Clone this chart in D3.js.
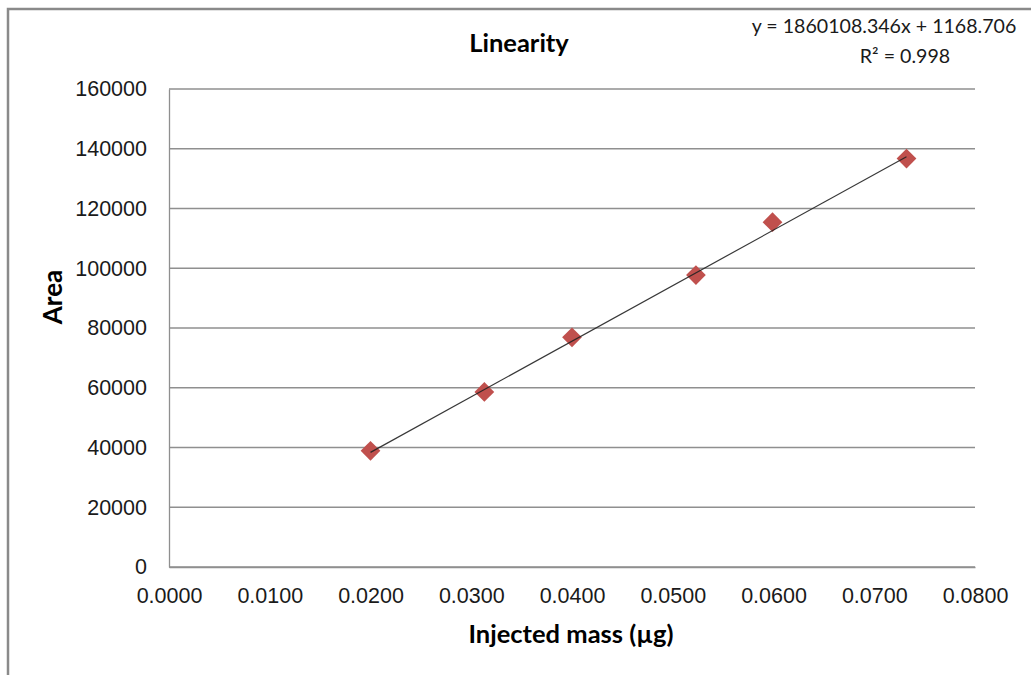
<!DOCTYPE html>
<html>
<head>
<meta charset="utf-8">
<script src="https://cdn.jsdelivr.net/npm/d3@7"></script>
<style>
    body { margin: 0; background: #fff; }
    svg { display: block; font-family: Lato, "Open Sans", sans-serif; }
</style>
</head>
<body>
<svg id="chart" width="1031" height="675"></svg>
<script>
// Values
let massValues = [0.0200, 0.0313, 0.0400, 0.0523, 0.0599, 0.0732];
let areaValues = [38900, 58600, 76900, 97700, 115400, 136700];
let xTicks = [0, 0.01, 0.02, 0.03, 0.04, 0.05, 0.06, 0.07, 0.08];
let yTicks = [0, 20000, 40000, 60000, 80000, 100000, 120000, 140000, 160000];
// trendline shown by the label
let slope = 1860108.346;
let intercept = 1168.706;

let svg = d3.select("#chart");
let svgWidth = 1031, svgHeight = 675;
let margin = { top: 89, right: 56, bottom: 108, left: 169 };
let width = svgWidth - margin.left - margin.right;
let height = svgHeight - margin.top - margin.bottom;

// outer chart frame (only left and top visible)
svg.append("path")
    .attr("d", "M8," + svgHeight + "V9H" + svgWidth)
    .attr("fill", "none")
    .attr("stroke", "#8a8a8a")
    .attr("stroke-width", 2.5);

let x = d3.scaleLinear().domain([0, 0.08]).range([0, width]);
let y = d3.scaleLinear().domain([0, 160000]).range([height, 0]);

let g = svg.append("g")
    .attr("transform", "translate(" + margin.left + "," + margin.top + ")");

// horizontal gridlines
g.append("g")
    .selectAll("line")
    .data(yTicks)
    .join("line")
    .attr("x1", 0)
    .attr("x2", width)
    .attr("y1", d => y(d))
    .attr("y2", d => y(d))
    .attr("stroke", "#8f8f8f")
    .attr("stroke-width", 1.3);

// y axis
let yAxis = g.append("g")
    .call(d3.axisLeft(y).tickValues(yTicks).tickSize(0).tickPadding(22).tickFormat(d3.format("d")));
yAxis.select(".domain").attr("stroke", "#8f8f8f").attr("stroke-width", 1.3);
yAxis.selectAll("text")
    .attr("fill", "#1a1a1a")
    .style("font-size", "21.5px");

// x axis
let xAxis = g.append("g")
    .attr("transform", "translate(0," + height + ")")
    .call(d3.axisBottom(x).tickValues(xTicks).tickSize(0).tickPadding(21).tickFormat(d3.format(".4f")));
xAxis.select(".domain").attr("stroke", "#8f8f8f").attr("stroke-width", 1.3);
xAxis.selectAll("text")
    .attr("fill", "#1a1a1a")
    .style("font-size", "21.5px");

// trendline
let xMin = d3.min(massValues), xMax = d3.max(massValues);

// diamond markers
let diamond = d3.symbol().type(d3.symbolSquare).size(195);
g.append("g")
    .selectAll("path")
    .data(massValues)
    .join("path")
    .attr("d", diamond)
    .attr("transform", (d, i) => "translate(" + x(d) + "," + y(areaValues[i]) + ") rotate(45)")
    .attr("fill", "#c0504d");

// trendline drawn over markers like Excel
g.append("line")
    .attr("x1", x(xMin))
    .attr("y1", y(slope * xMin + intercept))
    .attr("x2", x(xMax))
    .attr("y2", y(slope * xMax + intercept))
    .attr("stroke", "#222")
    .attr("stroke-width", 1.2)
    .attr("stroke-opacity", 0.9);

// titles
svg.append("text")
    .attr("x", 519)
    .attr("y", 52)
    .attr("text-anchor", "middle")
    .attr("fill", "#000")
    .style("font-size", "25.5px")
    .style("font-weight", "bold")
    .text("Linearity");

svg.append("text")
    .attr("x", 571)
    .attr("y", 643)
    .attr("text-anchor", "middle")
    .attr("fill", "#000")
    .style("font-size", "25.5px")
    .style("font-weight", "bold")
    .text("Injected mass (µg)");

svg.append("text")
    .attr("transform", "translate(62,297) rotate(-90)")
    .attr("text-anchor", "middle")
    .attr("fill", "#000")
    .style("font-size", "26px")
    .style("font-weight", "bold")
    .text("Area");

// trendline label
svg.append("text")
    .attr("x", 884)
    .attr("y", 33)
    .attr("text-anchor", "middle")
    .attr("fill", "#1a1a1a")
    .style("font-size", "19.6px")
    .text("y = 1860108.346x + 1168.706");

svg.append("text")
    .attr("x", 905)
    .attr("y", 63)
    .attr("text-anchor", "middle")
    .attr("fill", "#1a1a1a")
    .style("font-size", "19.6px")
    .text("R² = 0.998");
</script>
</body>
</html>
